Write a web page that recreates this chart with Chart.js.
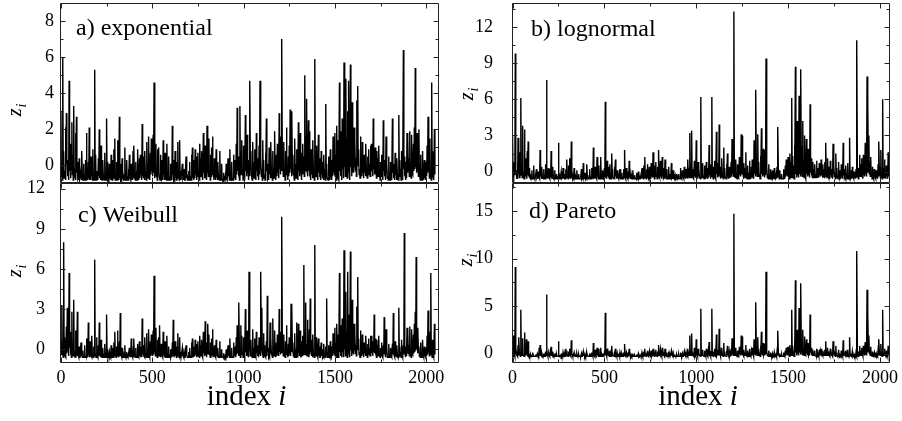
<!DOCTYPE html>
<html>
<head>
<meta charset="utf-8">
<script src="https://cdn.jsdelivr.net/npm/chart.js@4.4.1/dist/chart.umd.min.js"></script>
<style>
  body { margin: 0; background: #fff; width: 902px; height: 421px; position: relative; overflow: hidden; }
  canvas { position: absolute; }
</style>
</head>
<body>
<canvas id="chartA" width="450" height="186" style="left:0;top:0"></canvas>
<canvas id="chartB" width="452" height="186" style="left:450px;top:0"></canvas>
<canvas id="chartC" width="450" height="241" style="left:0;top:180px"></canvas>
<canvas id="chartD" width="452" height="241" style="left:450px;top:180px"></canvas>
<script>
// ==================== DATA ====================
// peak values every 5 indices (0, 5, ... 2045),
// plus the dip reached between two of those samples
const STEP = 5;

const expValues = [
  3.0, -0.4, 6.0, 0.8, -0.5, 2.1, 2.9, 0.3, -0.2, 4.7, 1.2, -0.3, 2.4, 0.6, 3.3, -0.1, 1.8, 2.7, 0.2, -0.6,
  0.4, -0.7, -0.3, 0.8, -0.8, 0.1, -0.5, 0.3, 1.8, -0.4, 0.2, 2.1, -0.6, 0.5, -0.2, 0.9, -0.7, 5.3, 0.6, -0.3,
  -0.5, 0.4, 2.0, -0.2, 1.1, -0.8, 0.3, -0.6, 0.7, -0.4, 2.6, 0.2, -0.7, 0.1, -0.5, 0.6, -0.8, 0.3, 0.9, 1.5,
  -0.6, 0.2, 1.4, -0.3, 2.7, 0.1, -0.7, 0.4, -0.5, -0.8, 1.0, -0.4, 0.3, -0.8, -0.2, 0.6, -0.7, 0.1, -0.5, 0.8,
  1.1, -0.6, 0.2, -0.3, 0.9, -0.7, 0.4, 0.6, -0.2, 2.3, 0.5, -0.5, 0.8, -0.4, 1.3, 0.1, 1.6, -0.3, 0.7, 1.5,
  0.2, 1.7, 4.6, 0.4, 1.2, -0.3, 0.9, 1.0, -0.5, 0.6, 0.3, -0.6, 1.4, -0.2, 0.7, -0.7, 1.2, -0.4, 0.5, -0.6,
  0.1, -0.5, 2.2, 0.3, -0.7, 0.8, -0.4, 0.2, 1.3, -0.6, 1.4, -0.3, -0.8, 0.1, -0.6, -0.2, -0.8, 0.5, -0.5, -0.7,
  -0.3, 0.2, -0.6, 0.6, 1.0, -0.4, 0.3, 0.9, -0.2, 0.5, 0.7, -0.5, 1.2, 0.4, 0.8, -0.3, 1.8, 0.2, 1.1, -0.4,
  2.2, 0.5, 1.5, -0.3, 0.6, 1.0, 1.6, -0.2, 0.4, -0.6, 0.9, -0.4, 0.2, -0.7, 0.8, -0.5, 0.1, -0.8, -0.4, -0.7,
  -0.6, 0.1, -0.8, 0.4, -0.3, 0.9, -0.6, 0.2, -0.7, 0.6, 0.3, -0.4, 1.2, 3.2, 0.5, -0.2, 3.3, 0.8, 1.4, -0.3,
  1.1, -0.4, 2.8, 0.6, 1.7, -0.2, 0.3, 4.7, 0.8, -0.5, 1.3, 0.2, 0.9, -0.6, 1.8, 0.4, -0.3, 1.1, 4.7, 0.5,
  -0.2, 1.4, 0.3, -0.5, 0.7, 2.6, 0.1, -0.6, 1.0, 0.4, 1.3, -0.3, 0.8, -0.1, 1.9, -0.4, 0.6, 1.2, 0.2, 2.9,
  0.9, 1.6, 7.0, 0.4, 1.3, -0.3, 0.8, 2.1, -0.2, 0.5, 1.1, 3.1, 0.2, 3.0, 0.6, -0.4, 1.5, 0.1, 0.9, -0.5,
  2.4, 0.3, 1.8, -0.2, 0.7, 1.2, 0.5, 5.0, 1.6, 3.7, 0.4, 2.5, 1.9, -0.3, 0.9, 0.2, 1.4, -0.4, 5.9, 0.6,
  1.1, -0.3, 1.7, 0.4, -0.6, 0.8, 0.2, -0.5, 0.6, -0.2, 3.4, 0.1, -0.7, 0.5, -0.4, 0.9, -0.6, 0.3, 1.6, 0.7,
  1.8, 0.6, 2.2, 1.4, 0.8, 4.6, 1.9, 0.9, 2.6, 1.2, 5.7, 2.0, 4.8, 1.5, 3.0, 4.7, 1.1, 5.6, 2.4, 3.5,
  0.8, 2.1, 1.5, 0.4, 3.6, 4.4, 0.9, -0.2, 1.6, 0.3, 1.3, -0.1, 0.6, 0.2, 1.2, -0.3, 0.5, 0.9, 0.1, 1.1,
  1.2, 0.3, 2.6, 0.7, 1.0, -0.2, 0.8, 0.4, 1.1, -0.4, 0.2, 0.6, -0.5, 2.5, 0.3, -0.3, 1.6, 0.1, -0.6, 0.5,
  -0.4, 0.2, -0.7, 2.6, 0.1, -0.5, 0.7, -0.3, 0.4, -0.6, 2.8, 0.3, -0.2, 0.8, -0.5, 6.4, 0.5, -0.4, 0.2, 1.8,
  1.5, 0.4, 1.9, -0.3, 1.7, 0.6, 1.2, 2.1, 5.4, 0.9, 1.8, 0.3, 2.0, -0.4, 0.6, -0.2, 0.8, -0.6, 0.3, -0.5,
  0.2, 1.1, 2.7, 0.4, 1.5, -0.3, 4.6, 0.8, -0.4, 2.0
];
const expLows = [
  -0.6, -0.8, -0.2, -0.7, -0.4, -0.8, 0.1, -0.6, -0.8, -0.3, -0.7, 0.2, -0.5, -0.8, -0.1, -0.6, -0.8, -0.4, -0.7, -0.8,
  -0.8, -0.7, -0.8, -0.6, -0.8, -0.7, -0.8, -0.8, -0.6, -0.8, -0.7, -0.8, -0.8, -0.6, -0.8, -0.7, -0.8, -0.5, -0.8, -0.7,
  -0.8, -0.6, -0.7, -0.8, -0.5, -0.8, -0.7, -0.8, -0.6, -0.8, -0.7, -0.8, -0.8, -0.7, -0.8, -0.6, -0.8, -0.7, -0.5, -0.8,
  -0.7, -0.8, -0.6, -0.8, -0.7, -0.8, -0.8, -0.6, -0.8, -0.8, -0.7, -0.8, -0.6, -0.8, -0.8, -0.7, -0.8, -0.6, -0.8, -0.7,
  -0.6, -0.8, -0.7, -0.8, -0.6, -0.8, -0.7, -0.5, -0.8, -0.6, -0.7, -0.8, -0.5, -0.8, -0.4, -0.7, -0.6, -0.8, -0.5, -0.3,
  -0.6, -0.4, -0.7, -0.5, -0.6, -0.8, -0.4, -0.5, -0.8, -0.6, -0.7, -0.8, -0.5, -0.8, -0.6, -0.8, -0.5, -0.8, -0.7, -0.8,
  -0.7, -0.8, -0.5, -0.8, -0.8, -0.6, -0.8, -0.7, -0.5, -0.8, -0.6, -0.8, -0.8, -0.7, -0.8, -0.8, -0.8, -0.7, -0.8, -0.8,
  -0.8, -0.7, -0.8, -0.6, -0.5, -0.8, -0.7, -0.5, -0.8, -0.6, -0.5, -0.8, -0.4, -0.6, -0.5, -0.8, -0.4, -0.7, -0.5, -0.8,
  -0.4, -0.6, -0.5, -0.8, -0.6, -0.5, -0.4, -0.8, -0.6, -0.8, -0.5, -0.8, -0.7, -0.8, -0.6, -0.8, -0.7, -0.8, -0.8, -0.8,
  -0.8, -0.7, -0.8, -0.6, -0.8, -0.5, -0.8, -0.7, -0.8, -0.6, -0.7, -0.8, -0.5, -0.3, -0.6, -0.8, -0.2, -0.5, -0.4, -0.8,
  -0.5, -0.8, -0.3, -0.6, -0.4, -0.8, -0.6, -0.2, -0.5, -0.8, -0.4, -0.7, -0.5, -0.8, -0.3, -0.6, -0.8, -0.5, -0.2, -0.6,
  -0.8, -0.5, -0.7, -0.8, -0.6, -0.3, -0.7, -0.8, -0.5, -0.7, -0.4, -0.8, -0.5, -0.7, -0.3, -0.8, -0.6, -0.4, -0.7, -0.2,
  -0.5, -0.3, -0.1, -0.6, -0.4, -0.8, -0.5, -0.3, -0.8, -0.6, -0.4, -0.2, -0.6, -0.3, -0.5, -0.8, -0.4, -0.7, -0.5, -0.8,
  -0.3, -0.6, -0.4, -0.8, -0.5, -0.4, -0.6, -0.1, -0.3, -0.2, -0.6, -0.3, -0.4, -0.8, -0.5, -0.7, -0.4, -0.8, -0.2, -0.6,
  -0.5, -0.8, -0.4, -0.6, -0.8, -0.5, -0.7, -0.8, -0.6, -0.8, -0.3, -0.7, -0.8, -0.6, -0.8, -0.5, -0.8, -0.6, -0.4, -0.5,
  -0.6, -0.8, -0.4, -0.7, -0.8, -0.3, -0.6, -0.8, -0.2, -0.7, -0.1, -0.6, 0.0, -0.7, -0.3, -0.2, -0.8, -0.1, -0.6, -0.4,
  -0.4, -0.1, -0.3, -0.6, 0.1, 0.0, -0.5, -0.7, -0.3, -0.6, -0.2, -0.7, -0.4, -0.6, -0.3, -0.7, -0.5, -0.3, -0.6, -0.4,
  -0.3, -0.6, -0.2, -0.5, -0.4, -0.7, -0.4, -0.6, -0.3, -0.8, -0.6, -0.4, -0.8, -0.3, -0.6, -0.8, -0.4, -0.7, -0.8, -0.6,
  -0.8, -0.6, -0.8, -0.4, -0.7, -0.8, -0.5, -0.8, -0.6, -0.8, -0.3, -0.6, -0.8, -0.5, -0.8, -0.2, -0.6, -0.8, -0.7, -0.4,
  -0.3, -0.6, -0.2, -0.7, -0.4, -0.5, -0.3, -0.2, -0.1, -0.4, -0.3, -0.6, -0.4, -0.8, -0.6, -0.8, -0.5, -0.8, -0.7, -0.8,
  -0.6, -0.4, -0.3, -0.7, -0.5, -0.8, -0.2, -0.6, -0.8, -0.5
];

const lognormalValues = [
  3.0, -0.2, 0.8, 9.8, 0.1, -0.4, 2.8, 0.4, 1.6, 6.1, 0.2, 3.8, -0.3, 3.5, 1.1, -0.2, 1.7, 2.5, 0.3, -0.5,
  -0.4, 0.1, -0.5, 0.5, -0.3, -0.6, 0.2, -0.4, 0.0, -0.5, 1.8, -0.2, 0.4, -0.5, 0.2, -0.3, 0.6, 7.6, -0.1, 0.3,
  -0.5, 0.2, 1.7, -0.3, 0.4, -0.6, 0.1, -0.4, -0.2, -0.5, 2.4, -0.3, -0.6, 0.0, -0.4, 0.3, -0.5, -0.2, 0.2, 1.0,
  -0.3, 0.5, 1.1, -0.4, 2.5, -0.2, -0.5, 0.3, -0.6, -0.4, 0.1, -0.5, -0.2, -0.6, -0.3, 0.2, -0.5, 0.7, -0.4, -0.1,
  -0.5, 0.6, -0.3, -0.6, 0.2, -0.4, 0.3, -0.2, 2.0, -0.3, 0.4, -0.5, 1.2, -0.1, 0.5, -0.4, 1.2, -0.2, 0.1, -0.4,
  0.3, 5.8, -0.2, 0.9, 0.4, -0.4, 0.6, -0.3, 1.5, 0.2, -0.5, 0.4, 1.0, -0.2, 0.1, -0.5, -0.3, 0.2, -0.6, -0.1,
  -0.4, 0.2, 1.8, -0.3, 0.3, -0.5, 0.0, 0.9, -0.4, -0.2, -0.6, 0.1, -0.5, -0.3, -0.6, -0.1, -0.5, 0.0, -0.4, -0.6,
  -0.2, 0.3, -0.4, 0.5, 1.2, -0.3, 0.2, 0.6, -0.1, 0.4, -0.4, 0.7, 0.1, 1.6, -0.2, 0.5, 0.8, -0.3, 0.4, 1.8,
  0.2, 0.9, -0.2, 1.2, 0.3, -0.4, 1.0, -0.3, 0.2, -0.5, 0.4, -0.2, -0.5, 0.7, -0.4, 0.1, -0.6, -0.3, -0.5, -0.2,
  -0.5, -0.2, -0.6, 0.3, -0.4, 0.1, -0.5, 0.4, -0.3, 0.2, -0.1, 1.0, 0.3, 3.2, 0.6, 3.4, 0.2, -0.3, 0.9, 0.1,
  2.6, -0.2, 0.8, 0.3, -0.4, 6.2, 0.1, 0.7, -0.3, 0.5, -0.1, 0.8, -0.4, 0.3, 2.2, 0.0, 0.6, 6.2, -0.2, 0.4,
  0.9, -0.3, 3.3, 0.2, 0.7, 3.9, -0.2, 0.4, 1.1, -0.3, 2.0, 0.3, -0.4, 0.6, 1.5, -0.2, 0.4, 0.1, 0.8, 2.7,
  0.5, 13.3, 0.2, 1.0, -0.3, 0.6, 0.1, 1.2, 0.4, 3.1, 3.0, -0.2, 0.7, 0.3, 1.6, -0.3, 0.5, -0.1, 0.9, -0.4,
  0.4, 1.0, -0.2, 2.6, 0.5, 6.8, 0.3, 3.1, 0.8, -0.2, 1.3, 3.6, 0.6, 1.9, 0.2, 1.8, 9.4, 0.4, -0.3, 0.6,
  -0.3, 0.2, -0.5, 0.1, -0.4, 0.3, -0.6, -0.2, 0.4, 3.7, -0.3, 0.1, -0.5, -0.2, -0.6, 0.2, -0.4, 0.5, 1.0, 0.3,
  1.2, 0.4, 1.5, 0.8, 6.1, 1.3, 0.5, 2.2, 8.7, 1.6, 4.2, 0.9, 6.3, 1.4, 8.5, 2.1, 4.2, 1.0, 3.0, 0.7,
  2.7, 0.5, 1.9, 0.3, 5.6, 1.1, -0.1, 0.8, 0.2, 0.6, -0.2, 0.9, 0.3, -0.1, 0.7, 0.4, 1.0, 0.1, 0.6, 0.2,
  0.8, 2.4, 0.1, 1.1, 0.4, -0.2, 0.9, 0.2, -0.3, 2.3, 0.5, -0.1, 1.5, 0.3, -0.4, 0.8, 0.1, -0.3, 0.6, -0.2,
  2.4, 0.2, -0.4, 0.5, -0.2, 0.7, -0.5, 2.8, 0.1, -0.3, 0.4, -0.5, 0.0, -0.3, 0.2, 10.9, -0.2, 0.3, 1.4, 0.6,
  1.1, -0.2, 1.4, 0.5, 2.4, 0.8, 7.9, 5.9, 3.0, 0.7, 1.2, -0.1, 0.4, -0.4, 0.2, -0.5, 0.1, -0.3, 0.6, 2.5,
  0.4, 1.8, -0.1, 6.0, 0.3, 1.0, -0.3, 0.5, -0.2, 1.6
];
const lognormalLows = [
  -0.4, -0.6, -0.3, -0.2, -0.6, -0.6, -0.1, -0.5, -0.3, -0.2, -0.5, 0.0, -0.6, -0.1, -0.4, -0.6, -0.3, -0.4, -0.5, -0.6,
  -0.6, -0.5, -0.6, -0.5, -0.6, -0.6, -0.5, -0.6, -0.5, -0.6, -0.4, -0.6, -0.5, -0.6, -0.5, -0.6, -0.5, -0.3, -0.6, -0.5,
  -0.6, -0.5, -0.4, -0.6, -0.5, -0.6, -0.6, -0.5, -0.6, -0.6, -0.4, -0.6, -0.6, -0.5, -0.6, -0.5, -0.6, -0.6, -0.5, -0.4,
  -0.6, -0.5, -0.4, -0.6, -0.3, -0.6, -0.6, -0.5, -0.6, -0.6, -0.5, -0.6, -0.6, -0.6, -0.5, -0.6, -0.6, -0.5, -0.6, -0.6,
  -0.6, -0.5, -0.6, -0.6, -0.5, -0.6, -0.5, -0.6, -0.4, -0.6, -0.5, -0.6, -0.4, -0.6, -0.5, -0.6, -0.4, -0.6, -0.5, -0.6,
  -0.5, -0.3, -0.6, -0.4, -0.5, -0.6, -0.4, -0.6, -0.3, -0.5, -0.6, -0.5, -0.4, -0.6, -0.5, -0.6, -0.6, -0.5, -0.6, -0.6,
  -0.6, -0.5, -0.4, -0.6, -0.5, -0.6, -0.6, -0.4, -0.6, -0.6, -0.6, -0.5, -0.6, -0.6, -0.6, -0.6, -0.6, -0.5, -0.6, -0.6,
  -0.6, -0.5, -0.6, -0.5, -0.4, -0.6, -0.5, -0.4, -0.6, -0.5, -0.6, -0.4, -0.5, -0.3, -0.6, -0.4, -0.4, -0.6, -0.5, -0.3,
  -0.5, -0.4, -0.6, -0.4, -0.5, -0.6, -0.4, -0.6, -0.5, -0.6, -0.5, -0.6, -0.6, -0.5, -0.6, -0.5, -0.6, -0.6, -0.6, -0.6,
  -0.6, -0.6, -0.6, -0.5, -0.6, -0.5, -0.6, -0.5, -0.6, -0.5, -0.6, -0.4, -0.5, -0.2, -0.5, -0.1, -0.5, -0.6, -0.4, -0.5,
  -0.3, -0.6, -0.4, -0.5, -0.6, -0.2, -0.5, -0.4, -0.6, -0.4, -0.6, -0.4, -0.6, -0.5, -0.3, -0.6, -0.4, -0.2, -0.6, -0.5,
  -0.4, -0.6, -0.2, -0.5, -0.4, -0.2, -0.6, -0.5, -0.3, -0.6, -0.3, -0.5, -0.6, -0.4, -0.3, -0.6, -0.5, -0.5, -0.4, -0.2,
  -0.4, -0.1, -0.5, -0.3, -0.6, -0.4, -0.5, -0.3, -0.4, -0.2, -0.2, -0.6, -0.4, -0.5, -0.3, -0.6, -0.4, -0.6, -0.4, -0.6,
  -0.5, -0.3, -0.6, -0.2, -0.4, -0.1, -0.4, -0.2, -0.4, -0.6, -0.3, -0.2, -0.4, -0.3, -0.5, -0.3, -0.1, -0.5, -0.6, -0.4,
  -0.6, -0.5, -0.6, -0.5, -0.6, -0.5, -0.6, -0.6, -0.5, -0.2, -0.6, -0.5, -0.6, -0.6, -0.6, -0.5, -0.6, -0.4, -0.3, -0.4,
  -0.5, -0.6, -0.4, -0.5, -0.3, -0.5, -0.6, -0.4, -0.2, -0.5, -0.3, -0.5, -0.2, -0.4, -0.1, -0.4, -0.3, -0.5, -0.4, -0.6,
  -0.2, -0.4, -0.3, -0.5, -0.1, -0.3, -0.5, -0.3, -0.5, -0.3, -0.5, -0.3, -0.5, -0.5, -0.3, -0.4, -0.3, -0.5, -0.4, -0.5,
  -0.4, -0.2, -0.5, -0.3, -0.5, -0.6, -0.3, -0.5, -0.6, -0.2, -0.4, -0.6, -0.3, -0.5, -0.6, -0.4, -0.5, -0.6, -0.4, -0.6,
  -0.3, -0.5, -0.6, -0.4, -0.6, -0.4, -0.6, -0.2, -0.5, -0.6, -0.4, -0.6, -0.5, -0.6, -0.5, -0.1, -0.6, -0.4, -0.3, -0.4,
  -0.3, -0.6, -0.3, -0.4, -0.2, -0.4, -0.1, 0.0, -0.2, -0.4, -0.3, -0.6, -0.4, -0.6, -0.5, -0.6, -0.5, -0.6, -0.4, -0.3,
  -0.5, -0.3, -0.6, -0.2, -0.5, -0.4, -0.6, -0.4, -0.6, -0.4
];

const weibullValues = [
  0.6, 3.3, -0.3, 8.0, 0.9, -0.4, 1.7, 3.1, 0.2, 5.7, 1.3, -0.2, 2.8, 0.5, 3.7, -0.1, 1.4, 0.3, 2.8, -0.5,
  0.2, -0.6, 0.5, -0.4, -0.1, -0.6, 0.3, -0.5, 0.8, -0.3, 2.0, -0.2, 0.6, -0.5, 1.0, -0.4, 0.2, 6.7, -0.3, 0.9,
  -0.5, 0.3, 2.0, -0.4, 0.7, -0.6, 0.1, -0.5, 0.4, -0.3, 2.6, 0.0, -0.6, -0.2, -0.5, 0.3, -0.6, 0.1, 0.5, 1.3,
  -0.4, 0.2, 1.4, -0.3, 0.6, 2.7, -0.5, 0.1, -0.6, -0.4, 0.3, -0.6, -0.2, -0.5, -0.6, 0.1, -0.4, 0.8, -0.5, -0.2,
  0.8, -0.5, 0.1, -0.6, 0.4, -0.3, 0.6, 0.2, -0.4, 2.3, 0.3, -0.5, 0.9, -0.3, 1.2, -0.1, 1.5, -0.4, 0.6, 1.1,
  0.1, 1.4, 5.5, 0.3, 1.6, -0.3, 0.7, 0.9, 1.8, -0.4, 0.4, -0.5, 1.3, -0.2, 0.6, -0.6, 1.0, -0.3, 0.2, -0.5,
  0.0, -0.4, 0.5, 2.2, -0.6, 0.6, -0.3, 0.2, 1.2, -0.5, 0.9, -0.2, -0.6, 0.1, -0.5, -0.3, -0.6, 0.3, -0.4, -0.6,
  -0.2, 0.1, -0.5, 0.5, 0.8, -0.3, 0.2, 0.7, -0.1, 0.4, 0.6, -0.4, 1.0, 0.3, 0.7, -0.2, 1.3, 0.1, 2.1, -0.3,
  0.5, 1.9, 1.1, -0.2, 0.5, 0.8, 1.5, -0.1, 0.3, -0.5, 0.7, -0.3, 0.1, -0.6, 0.6, -0.4, 0.0, -0.6, -0.3, -0.5,
  -0.5, 0.0, -0.6, 0.3, -0.2, 0.8, -0.5, 0.1, -0.6, 0.5, 0.2, -0.3, 0.9, 1.8, 0.4, 3.5, -0.1, 1.8, 1.0, -0.2,
  0.9, -0.3, 3.0, 0.5, 1.4, -0.2, 5.8, 0.3, 0.7, -0.4, 1.5, 0.1, 0.8, -0.5, 1.3, 0.3, -0.2, 0.9, 0.4, 5.8,
  3.1, -0.2, 1.2, 0.3, -0.4, 0.6, 4.0, 0.1, -0.5, 2.0, 0.9, -0.3, 2.3, 0.2, 1.4, -0.4, 0.5, 1.1, 0.2, 3.0,
  0.8, 1.3, 9.9, 0.3, 1.1, -0.3, 0.6, 1.8, -0.2, 0.4, 0.9, 0.1, 3.4, 3.3, 0.5, -0.3, 1.2, 0.0, 2.0, -0.4,
  1.9, 0.2, 1.4, -0.3, 0.6, 1.0, 6.3, 1.3, 3.5, 0.4, 2.2, -0.2, 1.5, 3.8, 0.7, 0.2, 1.1, -0.3, 7.8, 0.5,
  0.9, -0.4, 0.8, 0.2, -0.6, 0.5, 0.0, -0.5, 0.4, -0.3, 0.2, 3.8, -0.6, 0.3, -0.5, 0.6, -0.6, 0.2, 1.2, 0.5,
  1.6, 0.5, 1.9, 1.1, 0.7, 5.7, 1.8, 0.8, 2.3, 1.2, 7.4, 1.7, 4.3, 1.3, 5.8, 2.6, 1.0, 7.3, 2.0, 3.7,
  0.7, 1.9, 1.3, 0.3, 3.2, 5.4, 0.8, -0.2, 1.4, 0.2, 1.1, -0.1, 0.5, 0.2, 1.0, -0.3, 0.4, 0.8, 0.1, 1.0,
  1.0, 0.2, 0.6, 2.6, 0.8, -0.2, 0.7, 0.3, 1.0, -0.4, 0.1, 0.5, -0.5, 0.3, 2.4, -0.3, 1.5, 0.1, -0.6, 0.4,
  -0.4, 0.1, -0.6, 0.4, 2.7, -0.5, 0.6, -0.3, 0.3, -0.6, 3.1, 0.2, -0.2, 0.7, -0.5, 0.3, 8.7, -0.4, 0.2, 1.6,
  1.4, 0.3, 1.7, -0.3, 1.5, 0.5, 1.1, 1.9, 2.8, 6.9, 0.8, 1.6, 0.2, -0.4, 0.5, -0.2, 0.7, -0.6, 0.2, -0.5,
  0.1, 1.0, 2.9, 0.3, 1.3, 5.7, -0.3, 0.7, -0.4, 1.9
];
const weibullLows = [
  -0.4, -0.2, -0.6, 0.0, -0.5, -0.6, -0.3, -0.1, -0.5, 0.1, -0.4, -0.6, -0.2, -0.5, -0.1, -0.6, -0.3, -0.5, -0.2, -0.6,
  -0.6, -0.6, -0.5, -0.6, -0.6, -0.6, -0.5, -0.6, -0.5, -0.6, -0.4, -0.6, -0.5, -0.6, -0.5, -0.6, -0.5, -0.3, -0.6, -0.5,
  -0.6, -0.5, -0.4, -0.6, -0.5, -0.6, -0.6, -0.6, -0.5, -0.6, -0.4, -0.6, -0.6, -0.6, -0.6, -0.5, -0.6, -0.6, -0.5, -0.4,
  -0.6, -0.5, -0.4, -0.6, -0.5, -0.3, -0.6, -0.6, -0.6, -0.6, -0.5, -0.6, -0.6, -0.6, -0.6, -0.6, -0.6, -0.5, -0.6, -0.6,
  -0.5, -0.6, -0.6, -0.6, -0.5, -0.6, -0.5, -0.6, -0.6, -0.4, -0.5, -0.6, -0.4, -0.6, -0.4, -0.6, -0.4, -0.6, -0.5, -0.4,
  -0.5, -0.4, -0.2, -0.5, -0.4, -0.6, -0.4, -0.5, -0.3, -0.6, -0.5, -0.6, -0.4, -0.6, -0.5, -0.6, -0.5, -0.6, -0.6, -0.6,
  -0.6, -0.6, -0.5, -0.3, -0.6, -0.5, -0.6, -0.5, -0.4, -0.6, -0.5, -0.6, -0.6, -0.5, -0.6, -0.6, -0.6, -0.5, -0.6, -0.6,
  -0.6, -0.5, -0.6, -0.5, -0.4, -0.6, -0.5, -0.4, -0.6, -0.5, -0.4, -0.6, -0.4, -0.5, -0.4, -0.6, -0.3, -0.5, -0.3, -0.6,
  -0.4, -0.3, -0.4, -0.6, -0.5, -0.4, -0.3, -0.6, -0.5, -0.6, -0.5, -0.6, -0.6, -0.6, -0.5, -0.6, -0.6, -0.6, -0.6, -0.6,
  -0.6, -0.6, -0.6, -0.5, -0.6, -0.5, -0.6, -0.6, -0.6, -0.5, -0.5, -0.6, -0.4, -0.3, -0.5, -0.2, -0.6, -0.3, -0.4, -0.6,
  -0.4, -0.6, -0.2, -0.5, -0.3, -0.6, -0.1, -0.5, -0.4, -0.6, -0.3, -0.6, -0.4, -0.6, -0.3, -0.5, -0.6, -0.4, -0.5, -0.1,
  -0.2, -0.6, -0.4, -0.5, -0.6, -0.5, -0.2, -0.6, -0.6, -0.3, -0.4, -0.6, -0.3, -0.5, -0.3, -0.6, -0.5, -0.4, -0.5, -0.2,
  -0.4, -0.3, 0.0, -0.5, -0.4, -0.6, -0.4, -0.3, -0.6, -0.5, -0.4, -0.5, -0.2, -0.2, -0.5, -0.6, -0.4, -0.6, -0.3, -0.6,
  -0.3, -0.5, -0.4, -0.6, -0.5, -0.4, -0.1, -0.4, -0.2, -0.5, -0.3, -0.6, -0.4, -0.2, -0.5, -0.6, -0.4, -0.6, -0.1, -0.5,
  -0.4, -0.6, -0.5, -0.6, -0.6, -0.5, -0.6, -0.6, -0.5, -0.6, -0.5, -0.2, -0.6, -0.5, -0.6, -0.5, -0.6, -0.5, -0.3, -0.4,
  -0.5, -0.6, -0.3, -0.6, -0.6, -0.2, -0.5, -0.6, -0.2, -0.6, 0.0, -0.5, 0.1, -0.6, -0.2, -0.3, -0.6, -0.1, -0.5, -0.3,
  -0.4, -0.1, -0.3, -0.5, 0.0, 0.0, -0.4, -0.6, -0.3, -0.5, -0.2, -0.6, -0.3, -0.5, -0.2, -0.6, -0.4, -0.3, -0.5, -0.3,
  -0.3, -0.5, -0.2, -0.3, -0.4, -0.6, -0.3, -0.5, -0.3, -0.6, -0.5, -0.4, -0.6, -0.4, -0.2, -0.6, -0.3, -0.6, -0.6, -0.5,
  -0.6, -0.5, -0.6, -0.4, -0.3, -0.6, -0.4, -0.6, -0.5, -0.6, -0.2, -0.5, -0.6, -0.4, -0.6, -0.4, -0.1, -0.6, -0.5, -0.3,
  -0.3, -0.5, -0.2, -0.6, -0.3, -0.4, -0.3, -0.2, -0.1, 0.0, -0.3, -0.2, -0.5, -0.6, -0.4, -0.6, -0.4, -0.6, -0.5, -0.6,
  -0.5, -0.4, -0.2, -0.5, -0.4, -0.1, -0.6, -0.4, -0.6, -0.4
];

const paretoValues = [
  0.4, 1.9, -0.1, 9.1, 0.2, -0.2, 0.9, 1.7, 0.1, 4.6, 0.3, 1.6, -0.1, 2.2, 0.5, 1.5, 0.2, 1.3, -0.1, -0.2,
  -0.1, -0.3, 0.1, -0.2, -0.3, -0.1, -0.3, 0.0, -0.2, 0.6, 0.9, -0.2, 0.1, -0.3, 0.0, -0.2, 0.2, 6.2, -0.1, 0.1,
  -0.2, 0.1, 0.7, -0.2, 0.2, -0.3, 0.0, -0.2, -0.1, -0.3, 1.3, -0.2, -0.3, -0.1, -0.2, 0.1, -0.3, -0.1, 0.5, 0.3,
  -0.2, 0.2, 0.5, -0.2, 1.4, -0.1, -0.3, 0.1, -0.3, -0.2, 0.0, -0.3, -0.1, -0.3, -0.2, 0.0, -0.3, 0.2, -0.2, -0.1,
  -0.3, 0.1, -0.2, -0.3, 0.0, -0.2, 0.1, -0.1, 1.1, -0.2, 0.4, -0.3, 0.6, -0.1, 0.5, -0.2, 0.6, -0.1, 0.0, -0.2,
  0.1, 4.3, -0.1, 0.5, 0.2, -0.2, 0.3, -0.1, 0.8, 0.1, -0.2, 0.2, 0.5, -0.1, 0.0, -0.3, -0.1, 0.1, -0.3, -0.1,
  -0.2, 0.1, 1.0, -0.2, 0.1, -0.3, 0.0, 0.5, -0.2, -0.1, -0.3, 0.0, -0.3, -0.2, -0.3, -0.1, -0.3, 0.0, -0.2, -0.3,
  -0.1, 0.1, -0.2, 0.2, 0.5, -0.2, 0.1, 0.3, -0.1, 0.2, -0.2, 0.3, 0.0, 0.5, -0.1, 0.2, 0.4, -0.2, 0.2, 0.9,
  0.1, 0.4, -0.1, 0.6, 0.1, -0.2, 0.5, -0.2, 0.1, -0.3, 0.2, -0.1, -0.3, 0.3, -0.2, 0.0, -0.3, -0.2, -0.3, -0.1,
  -0.3, -0.1, -0.3, 0.1, -0.2, 0.0, -0.3, 0.2, -0.2, 0.1, -0.1, 0.5, 0.2, 1.9, 0.3, 2.1, 0.1, -0.2, 0.6, 0.0,
  1.5, -0.1, 0.5, 0.1, -0.2, 4.7, 0.0, 0.4, -0.2, 0.3, -0.1, 0.5, -0.2, 0.2, 1.2, 0.0, 0.3, 4.7, -0.1, 0.2,
  0.5, -0.2, 2.0, 0.1, 0.4, 2.6, -0.1, 0.2, 0.6, -0.2, 1.1, 0.2, -0.2, 0.3, 0.8, -0.1, 0.2, 0.0, 0.5, 1.6,
  0.3, 14.7, 0.1, 0.6, -0.2, 0.3, 0.0, 0.7, 0.2, 1.9, 1.8, -0.1, 0.4, 0.1, 0.9, -0.2, 0.3, -0.1, 0.5, -0.2,
  0.2, 0.6, -0.1, 1.5, 0.3, 5.4, 0.2, 1.7, 0.5, -0.1, 0.8, 2.3, 0.3, 1.1, 0.1, 1.0, 8.6, 0.2, -0.2, 0.3,
  -0.2, 0.1, -0.3, 0.0, -0.2, 0.1, -0.3, -0.1, 0.2, 2.4, -0.2, 0.0, -0.3, -0.1, -0.3, 0.1, -0.2, 0.3, 0.6, 0.2,
  0.7, 0.2, 0.9, 0.5, 4.6, 0.8, 0.3, 1.3, 7.7, 0.9, 2.5, 0.5, 4.8, 0.8, 7.4, 1.2, 2.5, 0.6, 1.8, 0.4,
  1.5, 0.3, 1.1, 0.1, 4.1, 0.6, -0.1, 0.4, 0.1, 0.3, -0.2, 0.5, 0.1, -0.1, 0.4, 0.2, 0.5, 0.0, 0.3, 0.1,
  0.4, 1.3, 0.0, 0.6, 0.2, -0.2, 0.5, 0.1, -0.2, 1.3, 0.2, -0.1, 0.8, 0.1, -0.3, 0.4, 0.0, -0.2, 0.3, -0.1,
  1.4, 0.1, -0.2, 0.3, -0.1, 0.4, -0.3, 1.7, 0.0, -0.2, 0.2, -0.3, -0.1, -0.2, 0.1, 10.8, -0.1, 0.2, 0.8, 0.3,
  0.6, -0.1, 0.8, 0.3, 1.2, 0.5, 6.7, 4.4, 1.9, 0.4, 0.7, -0.1, 0.2, -0.3, 0.1, -0.3, 0.0, -0.2, 0.3, 1.5,
  0.2, 1.0, -0.1, 4.6, 0.1, 0.5, -0.2, 0.3, -0.1, 0.8
];
const paretoLows = [
  -0.1, -0.2, -0.3, -0.1, -0.2, -0.3, -0.2, -0.1, -0.3, 0.0, -0.2, -0.1, -0.3, -0.1, -0.2, -0.1, -0.3, -0.2, -0.3, -0.3,
  -0.3, -0.3, -0.2, -0.3, -0.3, -0.3, -0.3, -0.2, -0.3, -0.2, -0.2, -0.3, -0.2, -0.3, -0.3, -0.3, -0.2, -0.1, -0.3, -0.2,
  -0.3, -0.2, -0.2, -0.3, -0.2, -0.3, -0.3, -0.3, -0.3, -0.3, -0.2, -0.3, -0.3, -0.3, -0.3, -0.2, -0.3, -0.3, -0.2, -0.2,
  -0.3, -0.2, -0.2, -0.3, -0.1, -0.3, -0.3, -0.2, -0.3, -0.3, -0.2, -0.3, -0.3, -0.3, -0.3, -0.3, -0.3, -0.2, -0.3, -0.3,
  -0.3, -0.2, -0.3, -0.3, -0.3, -0.3, -0.2, -0.3, -0.2, -0.3, -0.2, -0.3, -0.2, -0.3, -0.2, -0.3, -0.2, -0.3, -0.3, -0.3,
  -0.2, -0.1, -0.3, -0.2, -0.2, -0.3, -0.2, -0.3, -0.1, -0.2, -0.3, -0.2, -0.2, -0.3, -0.3, -0.3, -0.3, -0.2, -0.3, -0.3,
  -0.3, -0.2, -0.2, -0.3, -0.2, -0.3, -0.3, -0.2, -0.3, -0.3, -0.3, -0.3, -0.3, -0.3, -0.3, -0.3, -0.3, -0.3, -0.3, -0.3,
  -0.3, -0.2, -0.3, -0.2, -0.2, -0.3, -0.2, -0.2, -0.3, -0.2, -0.3, -0.2, -0.3, -0.2, -0.3, -0.2, -0.2, -0.3, -0.2, -0.2,
  -0.2, -0.2, -0.3, -0.2, -0.2, -0.3, -0.2, -0.3, -0.2, -0.3, -0.2, -0.3, -0.3, -0.2, -0.3, -0.3, -0.3, -0.3, -0.3, -0.3,
  -0.3, -0.3, -0.3, -0.2, -0.3, -0.3, -0.3, -0.2, -0.3, -0.2, -0.3, -0.2, -0.2, -0.1, -0.2, -0.1, -0.2, -0.3, -0.2, -0.2,
  -0.1, -0.3, -0.2, -0.2, -0.3, -0.1, -0.2, -0.2, -0.3, -0.2, -0.3, -0.2, -0.3, -0.2, -0.1, -0.3, -0.2, -0.1, -0.3, -0.2,
  -0.2, -0.3, -0.1, -0.2, -0.2, -0.1, -0.3, -0.2, -0.2, -0.3, -0.1, -0.2, -0.3, -0.2, -0.1, -0.3, -0.2, -0.3, -0.2, -0.1,
  -0.2, 0.0, -0.2, -0.1, -0.3, -0.2, -0.3, -0.1, -0.2, -0.1, -0.1, -0.3, -0.2, -0.2, -0.1, -0.3, -0.2, -0.3, -0.2, -0.3,
  -0.2, -0.1, -0.3, -0.1, -0.2, 0.0, -0.2, -0.1, -0.2, -0.3, -0.1, -0.1, -0.2, -0.1, -0.2, -0.1, 0.0, -0.2, -0.3, -0.2,
  -0.3, -0.2, -0.3, -0.3, -0.3, -0.2, -0.3, -0.3, -0.2, -0.1, -0.3, -0.3, -0.3, -0.3, -0.3, -0.2, -0.3, -0.2, -0.1, -0.2,
  -0.2, -0.3, -0.1, -0.2, 0.0, -0.2, -0.3, -0.1, 0.1, -0.2, 0.0, -0.2, 0.1, -0.1, 0.2, -0.1, 0.0, -0.2, -0.1, -0.2,
  0.0, -0.2, -0.1, -0.2, 0.1, -0.1, -0.2, -0.2, -0.2, -0.2, -0.3, -0.2, -0.2, -0.3, -0.2, -0.2, -0.1, -0.2, -0.2, -0.2,
  -0.2, -0.1, -0.2, -0.2, -0.2, -0.3, -0.2, -0.2, -0.3, -0.1, -0.2, -0.3, -0.2, -0.2, -0.3, -0.2, -0.3, -0.3, -0.2, -0.3,
  -0.2, -0.2, -0.3, -0.2, -0.3, -0.2, -0.3, -0.1, -0.2, -0.3, -0.2, -0.3, -0.3, -0.3, -0.2, 0.0, -0.3, -0.2, -0.1, -0.2,
  -0.1, -0.3, -0.1, -0.2, -0.1, -0.2, 0.1, 0.2, 0.0, -0.2, -0.1, -0.3, -0.2, -0.3, -0.2, -0.3, -0.3, -0.3, -0.2, -0.1,
  -0.2, -0.1, -0.3, 0.0, -0.2, -0.1, -0.3, -0.2, -0.3, -0.2
];

// tick labels
const xTicks = [0, 500, 1000, 1500, 2000];
const xMinor = [250, 750, 1250, 1750];
const yTicksA = [0, 2, 4, 6, 8];
const yMinorA = [1, 3, 5, 7];
const yTicksB = [0, 3, 6, 9, 12];
const yMinorB = [1.5, 4.5, 7.5, 10.5, 13.5];
const yTicksC = [0, 3, 6, 9, 12];
const yMinorC = [1.5, 4.5, 7.5, 10.5];
const yTicksD = [0, 5, 10, 15];
const yMinorD = [2.5, 7.5, 12.5, 17.5];

Chart.defaults.font.family = "'Liberation Serif', 'DejaVu Serif', serif";
Chart.defaults.color = '#000';

// ==================== PLUGINS ====================
// frame with inward ticks on all four sides
const framePlugin = {
    id: 'frame',
    afterDatasetsDraw(chart, args, opts) {
        const { ctx, chartArea: a } = chart;
        const x = chart.scales.x, y = chart.scales.y;
        ctx.save();
        ctx.strokeStyle = '#222';
        ctx.lineWidth = 1;
        ctx.beginPath();
        const L = Math.round(a.left) + 0.5, R = Math.round(a.right) - 0.5;
        const T = Math.round(a.top) + 0.5, B = Math.round(a.bottom) - 0.5;
        ctx.rect(L, T, R - L, B - T);
        const vt = (vals, len) => vals.forEach(v => {
            const px = Math.round(x.getPixelForValue(v)) + 0.5;
            ctx.moveTo(px, B); ctx.lineTo(px, B - len);
            ctx.moveTo(px, T); ctx.lineTo(px, T + len);
        });
        const ht = (vals, len) => vals.forEach(v => {
            const py = Math.round(y.getPixelForValue(v)) + 0.5;
            ctx.moveTo(L, py); ctx.lineTo(L + len, py);
            ctx.moveTo(R, py); ctx.lineTo(R - len, py);
        });
        vt(xTicks, 5); vt(xMinor, 3);
        ht(opts.yMajor, 5); ht(opts.yMinor, 3);
        ctx.stroke();
        ctx.restore();
    }
};

// panel tag, z_i axis label and "index i" title
const labelPlugin = {
    id: 'labels',
    afterDraw(chart, args, opts) {
        const { ctx, chartArea: a } = chart;
        const serif = "'Liberation Serif', serif";
        ctx.save();
        ctx.fillStyle = '#000';
        ctx.textBaseline = 'alphabetic';

        ctx.font = '24px ' + serif;
        ctx.textAlign = 'left';
        ctx.fillText(opts.tag, opts.tagX, opts.tagY);

        // rotated z_i
        ctx.save();
        ctx.translate(opts.zX, opts.zY);
        ctx.rotate(-Math.PI / 2);
        ctx.font = 'italic 20px ' + serif;
        const zw = ctx.measureText('z').width;
        ctx.font = 'italic 14px ' + serif;
        const iw = ctx.measureText('i').width;
        const u0 = -(zw + iw + 1) / 2;
        ctx.font = 'italic 20px ' + serif;
        ctx.fillText('z', u0, 0);
        ctx.font = 'italic 14px ' + serif;
        ctx.fillText('i', u0 + zw + 1, 5);
        ctx.restore();

        if (opts.xTitle) {
            ctx.font = '29px ' + serif;
            const w1 = ctx.measureText('index ').width;
            ctx.font = 'italic 29px ' + serif;
            const w2 = ctx.measureText('i').width;
            const cx = (a.left + a.right) / 2 - 3;
            const x0 = cx - (w1 + w2) / 2;
            ctx.font = '29px ' + serif;
            ctx.fillText('index ', x0, opts.titleY);
            ctx.font = 'italic 29px ' + serif;
            ctx.fillText('i', x0 + w1, opts.titleY);
        }
        ctx.restore();
    }
};

// ==================== CHART BUILDER ====================
function makePanel(id, values, lows, cfg) {
    // each sample at i*STEP, the dip after it half a step later
    const points = [];
    values.forEach((v, i) => {
        points.push({ x: i * STEP, y: v });
        if (lows[i] !== undefined) points.push({ x: i * STEP + STEP / 2, y: lows[i] });
    });
    return new Chart(document.getElementById(id), {
        type: 'line',
        data: {
            datasets: [{
                data: points,
                borderColor: '#000',
                borderWidth: 1.4,
                pointRadius: 0,
                tension: 0,
                fill: false
            }]
        },
        options: {
            responsive: false,
            animation: false,
            events: [],
            layout: { padding: { top: 3, right: cfg.padRight, bottom: cfg.showX ? 0 : 3, left: 0 } },
            plugins: {
                legend: { display: false },
                tooltip: { enabled: false },
                frame: { yMajor: cfg.yTicks, yMinor: cfg.yMinor },
                labels: cfg.labels
            },
            scales: {
                x: {
                    type: 'linear',
                    display: cfg.showX,
                    min: cfg.xMin,
                    max: cfg.xMax,
                    grid: { display: false, drawTicks: false },
                    border: { display: false },
                    afterBuildTicks: s => { s.ticks = xTicks.map(v => ({ value: v })); },
                    afterFit: s => {
                        s.height = cfg.showX ? 58 : 0;
                        s.paddingLeft = 0; s.paddingRight = 0;
                    },
                    ticks: {
                        font: { size: 18 },
                        padding: 4,
                        maxRotation: 0,
                        autoSkip: false,
                        callback: v => String(v)
                    }
                },
                y: {
                    type: 'linear',
                    min: cfg.yMin,
                    max: cfg.yMax,
                    grid: { display: false, drawTicks: false },
                    border: { display: false },
                    afterBuildTicks: s => { s.ticks = cfg.yTicks.map(v => ({ value: v })); },
                    afterFit: s => {
                        s.width = cfg.yWidth;
                        s.paddingTop = 0; s.paddingBottom = 0;
                    },
                    ticks: {
                        font: { size: 18 },
                        padding: cfg.yPad,
                        callback: v => String(v)
                    }
                }
            }
        },
        plugins: [framePlugin, labelPlugin]
    });
}

makePanel('chartA', expValues, expLows, {
    xMin: -5, xMax: 2070, yMin: -0.97, yMax: 9.0,
    yTicks: yTicksA, yMinor: yMinorA, yWidth: 60, yPad: 6, padRight: 11, showX: false,
    labels: { tag: 'a) exponential', tagX: 76, tagY: 35, zX: 21, zY: 110, xTitle: false }
});
makePanel('chartB', lognormalValues, lognormalLows, {
    xMin: -3, xMax: 2055, yMin: -0.95, yMax: 14.0,
    yTicks: yTicksB, yMinor: yMinorB, yWidth: 62, yPad: 19, padRight: 12, showX: false,
    labels: { tag: 'b) lognormal', tagX: 81, tagY: 36, zX: 23, zY: 94, xTitle: false }
});
makePanel('chartC', weibullValues, weibullLows, {
    xMin: -5, xMax: 2070, yMin: -1.03, yMax: 12.43,
    yTicks: yTicksC, yMinor: yMinorC, yWidth: 60, yPad: 15, padRight: 11, showX: true,
    labels: { tag: 'c) Weibull', tagX: 78, tagY: 42, zX: 21, zY: 91, xTitle: true, titleY: 225 }
});
makePanel('chartD', paretoValues, paretoLows, {
    xMin: -3, xMax: 2055, yMin: -1.0, yMax: 17.95,
    yTicks: yTicksD, yMinor: yMinorD, yWidth: 62, yPad: 19, padRight: 12, showX: true,
    labels: { tag: 'd) Pareto', tagX: 79, tagY: 38, zX: 22, zY: 80, xTitle: true, titleY: 225 }
});
</script>
</body>
</html>
